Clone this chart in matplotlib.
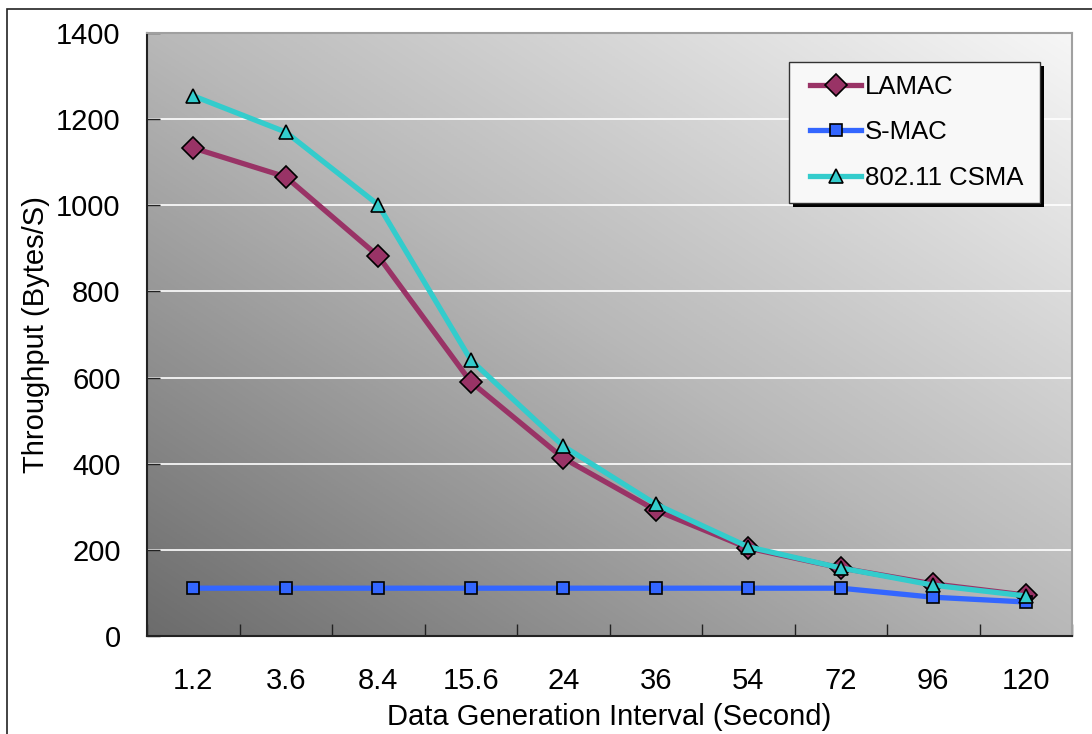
import numpy as np
import matplotlib
matplotlib.use("Agg")
import matplotlib.pyplot as plt
from matplotlib.patches import Rectangle
from matplotlib.colors import LinearSegmentedColormap

plt.rcParams['font.family'] = ['Liberation Sans', 'DejaVu Sans']

categories = ["1.2", "3.6", "8.4", "15.6", "24", "36", "54", "72", "96", "120"]
lamac = [1133, 1066, 882, 590, 413, 292, 204, 158, 121, 95]
smac = [111, 111, 111, 111, 111, 111, 111, 111, 90, 79]
csma = [1254, 1170, 1001, 641, 441, 306, 207, 158, 118, 93]

W, H = 1092, 734
fig = plt.figure(figsize=(W / 100, H / 100), dpi=100)
fig.patch.set_facecolor('white')

# outer chart frame (left and top edges visible)
fig.patches.append(Rectangle((7 / W, -0.1), 1.2, (H - 9) / H + 0.1,
                             transform=fig.transFigure, fill=False,
                             edgecolor='#222222', linewidth=1.2))

left, right, top, bottom = 147, 1072, 33, 636
ax = fig.add_axes([left / W, (H - bottom) / H, (right - left) / W, (bottom - top) / H])

x = np.arange(len(categories))
ax.set_xlim(-0.5, len(categories) - 0.5)
ax.set_ylim(0, 1400)

# diagonal grey gradient background
u, v = np.meshgrid(np.linspace(0, 1, 300), np.linspace(0, 1, 300))
grad = (u + v) / 2
cmap = LinearSegmentedColormap.from_list('bg', ['#6c6c6c', '#b8b8b8', '#f6f6f6'])
ax.imshow(grad, cmap=cmap, origin='lower', extent=[0, 1, 0, 1],
          transform=ax.transAxes, aspect='auto', zorder=0, interpolation='bilinear')

ax.set_yticks(np.arange(0, 1401, 200))
for yv in range(200, 1401, 200):
    ax.axhline(yv, color='white', linewidth=1.2, zorder=1)

ax.plot(x, lamac, color='#993366', linewidth=3.8, marker='D', markersize=11,
        markerfacecolor='#993366', markeredgecolor='black', markeredgewidth=1.2,
        label='LAMAC', zorder=3)
ax.plot(x, smac, color='#3366FF', linewidth=3.8, marker='s', markersize=8.5,
        markerfacecolor='#3366FF', markeredgecolor='black', markeredgewidth=1.2,
        label='S-MAC', zorder=3)
ax.plot(x, csma, color='#33CCCC', linewidth=3.8, marker='^', markersize=10.5,
        markerfacecolor='#33CCCC', markeredgecolor='black', markeredgewidth=1.2,
        label='802.11 CSMA', zorder=4)

# category labels centred, ticks on category boundaries
ax.set_xticks(x)
ax.set_xticklabels(categories, fontsize=21)
ax.set_xticks(np.arange(-0.5, len(categories) + 0.5, 1), minor=True)
ax.tick_params(axis='x', which='major', length=0, pad=22)
ax.tick_params(axis='x', which='minor', direction='in', length=9, width=1, color='#222222')
ax.tick_params(axis='y', direction='in', length=9, width=1, color='#222222',
               labelsize=21, pad=19)

for side in ['top', 'right']:
    ax.spines[side].set_color('#a0a0a0')
    ax.spines[side].set_linewidth(1.5)
for side in ['left', 'bottom']:
    ax.spines[side].set_color('#222222')
    ax.spines[side].set_linewidth(1.5)

ax.set_xlabel('Data Generation Interval (Second)', fontsize=21, labelpad=6)
ax.set_ylabel('Throughput (Bytes/S)', fontsize=21, labelpad=4)

# legend box with a solid black drop shadow
box_x0, box_x1, box_y0, box_y1 = 0.6941, 0.9654, 0.7181, 0.9519
sdx, sdy = 0.0045, 0.0068
ax.add_patch(Rectangle((box_x0 + sdx, box_y0 - sdy), box_x1 - box_x0, box_y1 - box_y0,
                       transform=ax.transAxes, facecolor='black', edgecolor='none',
                       zorder=4.4))
ax.add_patch(Rectangle((box_x0, box_y0), box_x1 - box_x0, box_y1 - box_y0,
                       transform=ax.transAxes, facecolor='#f8f8f8', edgecolor='#333333',
                       linewidth=1.0, zorder=4.5))

leg = ax.legend(loc='upper left', bbox_to_anchor=(0.7027, 0.9519), borderaxespad=0,
                fontsize=18.5, frameon=False, handlelength=2.0,
                labelspacing=0.84, borderpad=0.5, handletextpad=0.15)
leg.set_zorder(5)

fig.savefig('out.png', dpi=100)
